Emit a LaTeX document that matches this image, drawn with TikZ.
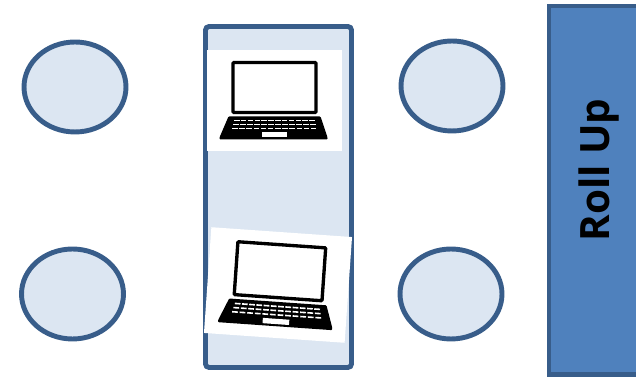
\documentclass[tikz,border=0pt]{standalone}
\usepackage{fontspec}
\setmainfont{Open Sans}
\usetikzlibrary{shapes.geometric}
\definecolor{edgeblue}{HTML}{385D8A}
\definecolor{paleblue}{HTML}{DCE6F2}
\definecolor{midblue}{HTML}{4F81BD}

\begin{document}
\begin{tikzpicture}[
  x=0.02cm, y=-0.02cm,
  roundnode/.style={ellipse, draw=edgeblue, fill=paleblue, line width=2.8pt,
                    minimum width=2.04cm, minimum height=1.8cm, inner sep=0pt},
  photonode/.style={rectangle, fill=white, minimum width=2.7cm, minimum height=2.02cm, inner sep=0pt},
  laptop/.pic={
    \draw[black, line width=1.9pt, fill=white, rounded corners=0.5pt] (-41.5,-38) rectangle (41.5,12);
    \fill[black, rounded corners=0.5pt] (-46,16) -- (46,16) -- (53,37) -- (53,39) -- (-55,39) -- (-55,37) -- cycle;
    \foreach \rowy/\rowl/\rowr in {19.5/-41/41, 23.5/-42/42, 27.5/-43/43}
      \foreach \keyx in {0,...,11}
        \fill[white] ({\rowl+(\rowr-\rowl)*\keyx/12+0.6},\rowy) rectangle ++(5.4,1.5);
    \fill[white] (-13,32) rectangle (12,37);
  }
]
\useasboundingbox (0,0) rectangle (636,377);
\node[rectangle, draw=edgeblue, fill=midblue, line width=2.8pt, minimum width=2.0cm, minimum height=7.38cm, inner sep=0pt] (rollup) at (599,190.5) {};
\node[rotate=90, font=\fontsize{23}{23}\selectfont\bfseries] (rolluplabel) at (599,170) {Roll Up};
\node[roundnode] (a1) at (75,87) {};
\node[roundnode] (a2) at (72.5,294) {};
\node[rectangle, rounded corners=2pt, draw=edgeblue, fill=paleblue, line width=2.8pt, minimum width=2.92cm, minimum height=6.82cm, inner sep=0pt] (host) at (278.5,197) {};
\node[roundnode] (b1) at (452,86) {};
\node[roundnode] (b2) at (451,294) {};
% laptops
\node[photonode] (photo1) at (274.5,100.5) {};
\node[photonode, rotate=-4, minimum width=2.82cm, minimum height=2.12cm] (photo2) at (278,285) {};
\pic at (274.5,100.5) {laptop};
\pic[rotate=-4, scale=1.06] at (279,285) {laptop};
\end{tikzpicture}
\end{document}
